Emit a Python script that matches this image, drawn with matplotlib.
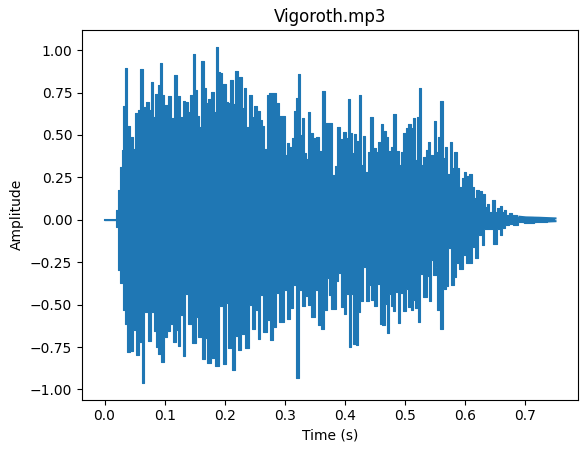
import numpy as np
import matplotlib
matplotlib.use('Agg')
import matplotlib.pyplot as plt

# peaks, time in seconds
t_upper = [0.0, 0.018, 0.021, 0.024, 0.027, 0.030, 0.033, 0.036, 0.040, 0.044, 0.049, 0.053, 0.057, 0.062, 0.065, 0.072, 0.075, 0.080, 0.082, 0.086, 0.091, 0.094, 0.097, 0.102, 0.108, 0.112, 0.119, 0.123, 0.127, 0.133, 0.136, 0.140, 0.145, 0.149, 0.151, 0.155, 0.159, 0.163, 0.167, 0.170, 0.174, 0.179, 0.184, 0.187, 0.191, 0.193, 0.199, 0.204, 0.207, 0.212, 0.216, 0.219, 0.226, 0.230, 0.234, 0.238, 0.242, 0.247, 0.251, 0.256, 0.260, 0.264, 0.268, 0.271, 0.276, 0.282, 0.288, 0.292, 0.297, 0.302, 0.306, 0.308, 0.314, 0.317, 0.320, 0.323, 0.327, 0.331, 0.334, 0.337, 0.341, 0.344, 0.350, 0.355, 0.359, 0.365, 0.369, 0.377, 0.381, 0.384, 0.389, 0.393, 0.399, 0.403, 0.407, 0.411, 0.413, 0.416, 0.421, 0.425, 0.428, 0.432, 0.436, 0.440, 0.444, 0.449, 0.453, 0.458, 0.461, 0.465, 0.470, 0.474, 0.478, 0.483, 0.487, 0.491, 0.495, 0.499, 0.503, 0.507, 0.511, 0.515, 0.519, 0.522, 0.525, 0.529, 0.532, 0.536, 0.540, 0.544, 0.547, 0.550, 0.554, 0.556, 0.561, 0.564, 0.568, 0.572, 0.577, 0.580, 0.584, 0.588, 0.592, 0.596, 0.600, 0.604, 0.608, 0.613, 0.616, 0.619, 0.626, 0.631, 0.635, 0.638, 0.642, 0.647, 0.651, 0.655, 0.660, 0.663, 0.666, 0.670, 0.674, 0.682, 0.690, 0.701, 0.723, 0.750]
amp_upper = [0.0, 0.0, 0.057, 0.175, 0.309, 0.411, 0.671, 0.897, 0.553, 0.486, 0.415, 0.628, 0.648, 0.888, 0.667, 0.697, 0.648, 0.811, 0.604, 0.740, 0.795, 0.923, 0.736, 0.677, 0.730, 0.598, 0.854, 0.730, 0.604, 0.701, 0.695, 0.638, 0.736, 0.978, 0.766, 0.612, 0.549, 0.933, 0.775, 0.687, 0.713, 0.752, 0.638, 1.02, 0.870, 0.864, 0.799, 0.697, 0.691, 0.821, 0.683, 0.874, 0.844, 0.657, 0.779, 0.549, 0.736, 0.608, 0.673, 0.642, 0.589, 0.555, 0.415, 0.736, 0.746, 0.746, 0.691, 0.612, 0.612, 0.382, 0.455, 0.427, 0.484, 0.642, 0.716, 0.858, 0.500, 0.598, 0.392, 0.356, 0.638, 0.514, 0.480, 0.490, 0.408, 0.760, 0.573, 0.569, 0.264, 0.317, 0.549, 0.474, 0.520, 0.480, 0.711, 0.510, 0.392, 0.504, 0.467, 0.736, 0.323, 0.496, 0.284, 0.398, 0.608, 0.421, 0.402, 0.457, 0.565, 0.524, 0.490, 0.408, 0.431, 0.622, 0.408, 0.323, 0.402, 0.510, 0.543, 0.563, 0.539, 0.598, 0.352, 0.604, 0.775, 0.323, 0.368, 0.411, 0.461, 0.382, 0.309, 0.581, 0.402, 0.490, 0.701, 0.366, 0.431, 0.270, 0.457, 0.303, 0.398, 0.303, 0.191, 0.248, 0.280, 0.258, 0.270, 0.195, 0.126, 0.175, 0.169, 0.152, 0.077, 0.093, 0.043, 0.116, 0.047, 0.067, 0.081, 0.047, 0.057, 0.028, 0.038, 0.028, 0.018, 0.014, 0.012, 0.008]

t_lower = [0.0, 0.018, 0.021, 0.024, 0.028, 0.033, 0.035, 0.040, 0.046, 0.050, 0.056, 0.060, 0.064, 0.068, 0.075, 0.080, 0.084, 0.088, 0.091, 0.096, 0.102, 0.107, 0.111, 0.116, 0.121, 0.124, 0.128, 0.132, 0.137, 0.142, 0.149, 0.154, 0.158, 0.165, 0.168, 0.174, 0.181, 0.187, 0.193, 0.200, 0.203, 0.209, 0.215, 0.220, 0.224, 0.230, 0.237, 0.242, 0.248, 0.252, 0.257, 0.261, 0.265, 0.274, 0.278, 0.282, 0.287, 0.292, 0.297, 0.301, 0.306, 0.311, 0.315, 0.322, 0.326, 0.331, 0.335, 0.341, 0.347, 0.352, 0.358, 0.362, 0.367, 0.372, 0.375, 0.378, 0.384, 0.387, 0.391, 0.395, 0.400, 0.404, 0.408, 0.411, 0.417, 0.419, 0.423, 0.428, 0.432, 0.438, 0.442, 0.446, 0.450, 0.456, 0.460, 0.464, 0.468, 0.472, 0.475, 0.478, 0.482, 0.485, 0.490, 0.494, 0.500, 0.504, 0.507, 0.511, 0.515, 0.519, 0.524, 0.527, 0.534, 0.538, 0.542, 0.545, 0.549, 0.552, 0.555, 0.561, 0.566, 0.570, 0.574, 0.578, 0.584, 0.586, 0.593, 0.599, 0.604, 0.610, 0.614, 0.619, 0.625, 0.629, 0.633, 0.642, 0.649, 0.655, 0.660, 0.663, 0.669, 0.676, 0.684, 0.693, 0.704, 0.723, 0.750]
amp_lower = [0.0, 0.0, -0.041, -0.297, -0.372, -0.533, -0.612, -0.779, -0.775, -0.651, -0.795, -0.720, -0.96, -0.543, -0.716, -0.543, -0.657, -0.749, -0.789, -0.838, -0.690, -0.655, -0.612, -0.720, -0.651, -0.746, -0.563, -0.805, -0.435, -0.612, -0.724, -0.572, -0.690, -0.822, -0.696, -0.842, -0.814, -0.864, -0.509, -0.848, -0.488, -0.755, -0.887, -0.685, -0.765, -0.671, -0.753, -0.503, -0.641, -0.529, -0.704, -0.444, -0.661, -0.592, -0.706, -0.631, -0.429, -0.602, -0.602, -0.415, -0.586, -0.517, -0.385, -0.933, -0.415, -0.509, -0.450, -0.504, -0.572, -0.415, -0.622, -0.645, -0.529, -0.342, -0.445, -0.523, -0.523, -0.362, -0.313, -0.513, -0.557, -0.435, -0.750, -0.435, -0.730, -0.736, -0.543, -0.478, -0.277, -0.476, -0.382, -0.474, -0.509, -0.376, -0.612, -0.618, -0.494, -0.665, -0.435, -0.509, -0.539, -0.425, -0.606, -0.431, -0.539, -0.409, -0.513, -0.529, -0.474, -0.519, -0.602, -0.317, -0.454, -0.330, -0.478, -0.238, -0.326, -0.277, -0.529, -0.641, -0.405, -0.391, -0.169, -0.382, -0.336, -0.253, -0.291, -0.208, -0.257, -0.252, -0.159, -0.224, -0.090, -0.149, -0.055, -0.055, -0.140, -0.055, -0.090, -0.051, -0.031, -0.022, -0.031, -0.012, -0.016, -0.012, -0.008]

x_ticks = [0.0, 0.1, 0.2, 0.3, 0.4, 0.5, 0.6, 0.7]

fig = plt.figure(figsize=(5.87, 4.53), dpi=100)
ax = fig.add_axes([82 / 587, 53.5 / 453, 496 / 587, 369.6 / 453])

ax.plot(t_upper, amp_upper, color='C0', lw=0.8, drawstyle='steps-mid')
ax.plot(t_lower, amp_lower, color='C0', lw=0.8, drawstyle='steps-mid')
ax.fill_between(t_upper, amp_upper, 0, step='mid', color='C0', lw=0)
ax.fill_between(t_lower, amp_lower, 0, step='mid', color='C0', lw=0)
# silent start and quiet tail keep the normal line width
ax.plot(t_upper[:2], amp_upper[:2], color='C0')
ax.plot(t_upper[-4:], amp_upper[-4:], color='C0')
ax.plot(t_lower[-4:], amp_lower[-4:], color='C0')

ax.set_xticks(x_ticks)
ax.set_title('Vigoroth.mp3')
ax.set_xlabel('Time (s)')
ax.set_ylabel('Amplitude')

plt.savefig('out.png', dpi=100)
